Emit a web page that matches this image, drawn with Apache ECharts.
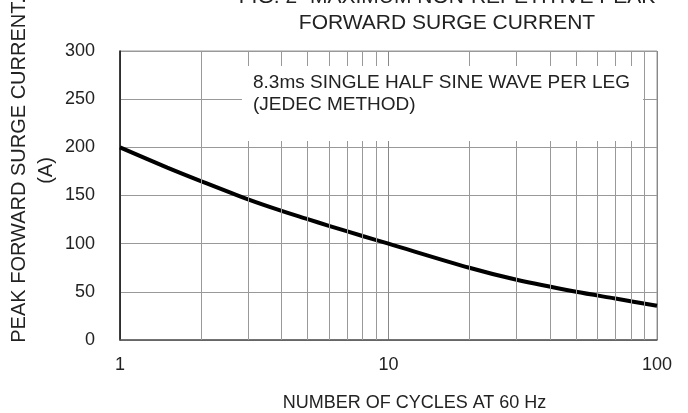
<!DOCTYPE html>
<html>
<head>
<meta charset="utf-8">
<script src="https://cdn.jsdelivr.net/npm/echarts@6/dist/echarts.min.js"></script>
<style>html,body{margin:0;padding:0;background:#fff;}#c{width:688px;height:413px;}</style>
</head>
<body>
<div id="c"></div>
<script>
const cycles = [1, 1.5, 2, 3, 4, 5, 6, 8, 10, 20, 30, 50, 70, 100];
const current = [200, 179, 165, 146, 134, 125.5, 118.5, 108, 100, 75, 62.5, 50, 43, 35.5];
const minorGrid = [2, 3, 4, 5, 6, 7, 8, 9, 20, 30, 40, 50, 60, 70, 80, 90];
const titleLines = ['FIG. 2- MAXIMUM NON-REPETITIVE PEAK', 'FORWARD SURGE CURRENT'];
const noteLines = ['8.3ms SINGLE HALF SINE WAVE PER LEG', '(JEDEC METHOD)'];
const xName = 'NUMBER OF CYCLES AT 60 Hz';
const yName = ['PEAK FORWARD SURGE CURRENT.', '(A)'];

const font = 'Liberation Sans, Arial, Helvetica, sans-serif';
const chart = echarts.init(document.getElementById('c'), null, {renderer: 'canvas'});
chart.setOption({
  animation: false,
  backgroundColor: '#fff',
  title: {
    text: titleLines.join('\n'),
    left: 447, top: -16, padding: 0,
    textAlign: 'center',
    textStyle: {fontFamily: font, fontSize: 21, fontWeight: 'normal', color: '#222', lineHeight: 26}
  },
  grid: {left: 120, right: 31, top: 51, bottom: 73, show: true, borderColor: '#999', borderWidth: 1,
         containLabel: false, outerBoundsMode: 'none'},
  xAxis: {
    type: 'log', logBase: 10, min: 1, max: 100,
    name: xName, nameLocation: 'middle', nameGap: 54, nameMoveOverlap: false,
    nameTextStyle: {fontFamily: font, fontSize: 18, color: '#222', padding: [0, 0, 0, 52]},
    axisLine: {lineStyle: {color: '#555', width: 1.5}},
    axisTick: {show: false},
    minorTick: {show: false},
    axisLabel: {fontFamily: font, fontSize: 18, color: '#222', margin: 16, formatter: v => String(v)},
    splitLine: {show: true, lineStyle: {color: '#888', width: 1}}
  },
  yAxis: {
    type: 'value', min: 0, max: 300, interval: 50,
    name: yName.join('\n'), nameLocation: 'middle', nameRotate: 90, nameGap: 60, nameMoveOverlap: false,
    nameTextStyle: {fontFamily: font, fontSize: 20, color: '#222', lineHeight: 27, padding: [0, 0, 0, 50]},
    axisLine: {show: true, lineStyle: {color: '#111', width: 1.5}},
    axisTick: {show: false},
    axisLabel: {fontFamily: font, fontSize: 18, color: '#222', margin: 25},
    splitLine: {show: true, lineStyle: {color: '#999', width: 1}}
  },
  graphic: [
    {type: 'rect', z: 100, shape: {x: 242, y: 66, width: 401, height: 75}, style: {fill: '#fff'}},
    {type: 'text', z: 101, x: 253, y: 83, style: {text: noteLines[0], fontFamily: font, fontSize: 19, fill: '#222', verticalAlign: 'middle'}},
    {type: 'text', z: 101, x: 253, y: 105, style: {text: noteLines[1], fontFamily: font, fontSize: 19, fill: '#222', verticalAlign: 'middle'}}
  ],
  series: [{
    type: 'line',
    data: cycles.map((c, i) => [c, current[i]]),
    smooth: 0.3,
    showSymbol: false,
    lineStyle: {color: '#000', width: 4},
    z: 3,
    markLine: {
      silent: true, symbol: 'none', label: {show: false},
      lineStyle: {color: '#999', width: 1, type: 'solid'},
      data: minorGrid.map(v => ({xAxis: v}))
    }
  }]
});
</script>
</body>
</html>
